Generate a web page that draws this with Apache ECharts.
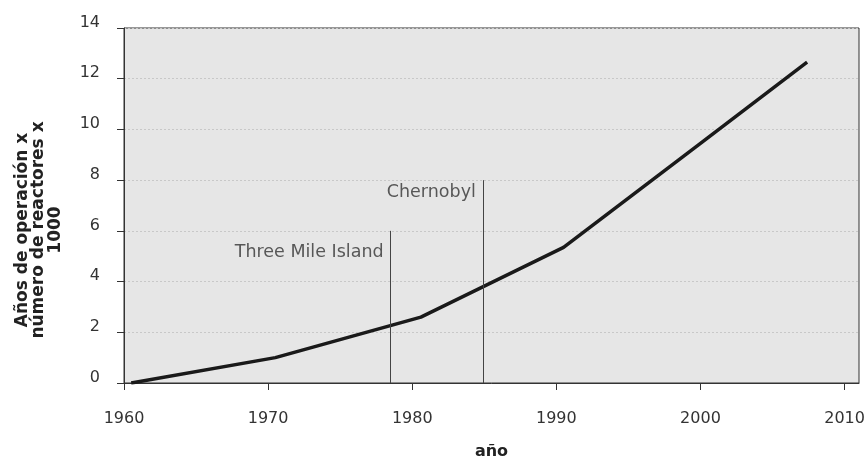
<!DOCTYPE html>
<html><head><meta charset="utf-8">
<script src="https://cdn.jsdelivr.net/npm/echarts@6/dist/echarts.min.js"></script>
<style>html,body{margin:0;padding:0;background:#fff}#c{width:866px;height:458px}</style>
</head><body><div id="c"></div>
<script>
// Data
const years = [1960.5, 1970.5, 1980.6, 1990.5, 2000, 2007.4];
const values = [0, 1.0, 2.6, 5.35, 9.45, 12.65];
const eventNames = ['Three Mile Island', 'Chernobyl'];
const eventYears = [1978.5, 1984.9];
const eventTops = [6, 8];
const eventLabelY = [5.15, 7.5];
const xTicks = [1960, 1970, 1980, 1990, 2000, 2010];
const yTicks = [0, 2, 4, 6, 8, 10, 12, 14];

const font = 'DejaVu Sans';
const chart = echarts.init(document.getElementById('c'));
chart.setOption({
  animation: false,
  grid: { left: 124, top: 28, right: 7, bottom: 75, outerBoundsMode: 'none', containLabel: false, show: true, backgroundColor: '#e6e6e6', borderColor: '#333', borderWidth: 1 },
  xAxis: {
    type: 'value', min: 1960, max: 2011,
    axisLine: { show: true, lineStyle: { color: '#333' } },
    axisTick: { show: true, length: 7, customValues: xTicks, lineStyle: { color: '#333' } },
    axisLabel: { customValues: xTicks, margin: 28, color: '#333', fontFamily: font, fontSize: 16, formatter: v => String(v) },
    splitLine: { show: false },
    name: 'año', nameLocation: 'middle', nameGap: 61,
    nameTextStyle: { fontFamily: font, fontSize: 16, fontWeight: 'bold', color: '#222' }
  },
  yAxis: {
    type: 'value', min: 0, max: 14, interval: 2,
    axisLine: { show: true, lineStyle: { color: '#333' } },
    axisTick: { show: true, length: 7, lineStyle: { color: '#333' } },
    axisLabel: { margin: 24, color: '#333', fontFamily: font, fontSize: 16, verticalAlign: 'bottom', lineHeight: 11 },
    splitLine: { show: true, lineStyle: { color: '#c8c8c8', type: [2, 2], width: 1 } }
  },
  graphic: [{
    type: 'text', x: 39, y: 230, rotation: Math.PI / 2,
    style: {
      text: 'Años de operación x\nnúmero de reactores x\n1000',
      font: 'bold 17px "DejaVu Sans"', fill: '#222', align: 'center', verticalAlign: 'middle', lineHeight: 16.5
    }
  }],
  series: [{
    type: 'line', data: years.map((y, i) => [y, values[i]]),
    showSymbol: false, symbol: 'none',
    lineStyle: { color: '#1a1a1a', width: 3.5 },
    markLine: {
      silent: true, symbol: 'none', label: { show: false },
      lineStyle: { color: '#444', width: 1, type: 'solid' },
      data: eventYears.map((y, i) => [{ coord: [y, 0] }, { coord: [y, eventTops[i]] }])
    }
  }, {
    type: 'scatter', symbolSize: 0, silent: true,
    data: eventYears.map((y, i) => ({ value: [y, eventLabelY[i]], name: eventNames[i] })),
    label: { show: true, position: 'left', distance: 7, formatter: p => p.name, color: '#333', fontFamily: font, fontSize: 17.5 }
  }]
});
</script></body></html>
